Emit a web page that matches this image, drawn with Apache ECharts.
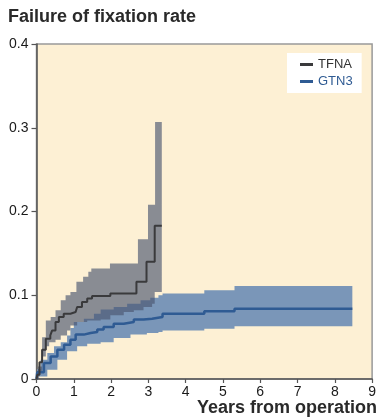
<!DOCTYPE html>
<html><head><meta charset="utf-8">
<script src="https://cdn.jsdelivr.net/npm/echarts@6/dist/echarts.min.js"></script>
<style>html,body{margin:0;padding:0;background:#fff}#c{width:379px;height:418px}</style>
</head><body><div id="c"></div>
<script>
const xTickLabels = ['0','1','2','3','4','5','6','7','8','9'];
const yTickLabels = ['0','0.1','0.2','0.3','0.4'];
const seriesNames = ['TFNA','GTN3'];

const tfnaLine = [[0,0],[0.02,0.005],[0.08,0.02],[0.15,0.035],[0.25,0.048],[0.37,0.052],[0.42,0.058],[0.51,0.068],[0.6,0.074],[0.73,0.078],[0.91,0.080],[1.05,0.082],[1.09,0.086],[1.22,0.092],[1.36,0.096],[1.49,0.099],[1.98,0.102],[2.68,0.116],[2.95,0.140],[3.17,0.183],[3.36,0.183]];
const tfnaUpper = [[0,0],[0.04,0.015],[0.15,0.05],[0.25,0.070],[0.38,0.074],[0.51,0.082],[0.65,0.094],[0.78,0.100],[0.91,0.104],[1.07,0.116],[1.25,0.122],[1.39,0.128],[1.47,0.132],[1.97,0.138],[2.72,0.167],[2.99,0.208],[3.18,0.307],[3.36,0.307]];
const tfnaLower = [[0,0],[0.07,0.008],[0.16,0.027],[0.25,0.039],[0.34,0.044],[0.51,0.047],[0.65,0.052],[0.82,0.058],[0.91,0.064],[1.09,0.068],[1.36,0.070],[1.72,0.071],[1.98,0.076],[2.34,0.080],[2.61,0.082],[2.87,0.086],[3.10,0.090],[3.17,0.104],[3.36,0.104]];

const gtn3Line = [[0,0],[0.02,0.008],[0.2,0.019],[0.38,0.027],[0.56,0.035],[0.74,0.041],[0.91,0.047],[1.05,0.053],[1.27,0.055],[1.45,0.056],[1.63,0.059],[1.8,0.062],[2.07,0.066],[2.34,0.068],[2.61,0.071],[2.87,0.072],[3.1,0.074],[3.38,0.078],[4.5,0.081],[5.31,0.084],[8.47,0.084]];
const gtn3Upper = [[0,0],[0.02,0.012],[0.11,0.023],[0.29,0.031],[0.47,0.039],[0.65,0.044],[0.82,0.052],[0.91,0.061],[1.0,0.068],[1.27,0.072],[1.54,0.078],[1.72,0.083],[2.07,0.086],[2.43,0.090],[2.79,0.094],[3.05,0.097],[3.27,0.100],[3.38,0.102],[4.5,0.106],[5.31,0.111],[8.47,0.111]];
const gtn3Lower = [[0,0],[0.02,0.003],[0.29,0.011],[0.56,0.023],[0.82,0.033],[1.09,0.039],[1.36,0.042],[1.72,0.044],[2.07,0.049],[2.52,0.053],[2.96,0.055],[3.27,0.056],[3.38,0.058],[4.5,0.060],[5.31,0.063],[8.47,0.063]];

function stepPts(arr){
  const out=[];
  for(let i=0;i<arr.length;i++){
    out.push(arr[i]);
    if(i+1<arr.length) out.push([arr[i+1][0], arr[i][1]]);
  }
  return out;
}
function bandRender(upper, lower, color, opacity){
  return function(params, api){
    const up = stepPts(upper).map(p=>api.coord(p));
    const lo = stepPts(lower).map(p=>api.coord(p)).reverse();
    return {type:'polygon', shape:{points: up.concat(lo)}, style:{fill: color, opacity: opacity}};
  };
}
const FONT = 'Liberation Sans, Arial, sans-serif';
const chart = echarts.init(document.getElementById('c'), null, {renderer:'canvas'});
chart.setOption({
  animation:false,
  backgroundColor:'#ffffff',
  title:{text:'Failure of fixation rate', left:3, top:3, textStyle:{fontSize:18, fontWeight:'bold', color:'#2a2a2a', fontFamily:FONT}},
  grid:{left:36.5, right:6, top:44, bottom:39, show:true, backgroundColor:'#fdf0d4', borderColor:'#999', borderWidth:1.5},
  legend:{
    left:287, top:53, orient:'vertical', backgroundColor:'#fff', padding:[5,9,5,13], itemGap:4,
    itemWidth:13, itemHeight:3, icon:'rect',
    textStyle:{fontSize:13, fontFamily:FONT},
    data:[{name:seriesNames[0], textStyle:{color:'#333'}},{name:seriesNames[1], textStyle:{color:'#2f5b93'}}]
  },
  xAxis:{type:'value', min:0, max:9, interval:1,
    axisLine:{show:true, lineStyle:{color:'#555', width:1.5}},
    axisTick:{show:true, length:4, lineStyle:{color:'#555', width:1.2}},
    axisLabel:{fontSize:14, color:'#1a1a1a', margin:6, fontFamily:FONT, formatter:(v)=>xTickLabels[Math.round(v)]},
    splitLine:{show:false}},
  yAxis:{type:'value', min:0, max:0.4, interval:0.1,
    axisLine:{show:true, lineStyle:{color:'#555', width:1.5}},
    axisTick:{show:true, length:5, lineStyle:{color:'#555', width:1.2}},
    axisLabel:{fontSize:14, color:'#1a1a1a', margin:8, fontFamily:FONT, formatter:(v)=>yTickLabels[Math.round(v*10)]},
    splitLine:{show:false}},
  graphic:[{type:'text', right:2, top:399, style:{text:'Years from operation', font:'bold 18px '+FONT, fill:'#2a2a2a'}}],
  series:[
    {name:'GTN3 CI', type:'custom', silent:true, data:[[0,0]], renderItem:bandRender(gtn3Upper,gtn3Lower,'#7a96b8',1), z:1},
    {name:'TFNA CI', type:'custom', silent:true, data:[[0,0]], renderItem:bandRender(tfnaUpper,tfnaLower,'#4c5670',0.65), z:2},
    {name:seriesNames[1], type:'line', step:'end', showSymbol:false, data:gtn3Line, color:'#2f5b93', lineStyle:{width:2.5, color:'#2f5b93'}, z:3},
    {name:seriesNames[0], type:'line', step:'end', showSymbol:false, data:tfnaLine, color:'#3a3a3c', lineStyle:{width:2, color:'#3a3a3c'}, z:4}
  ]
});
</script></body></html>
